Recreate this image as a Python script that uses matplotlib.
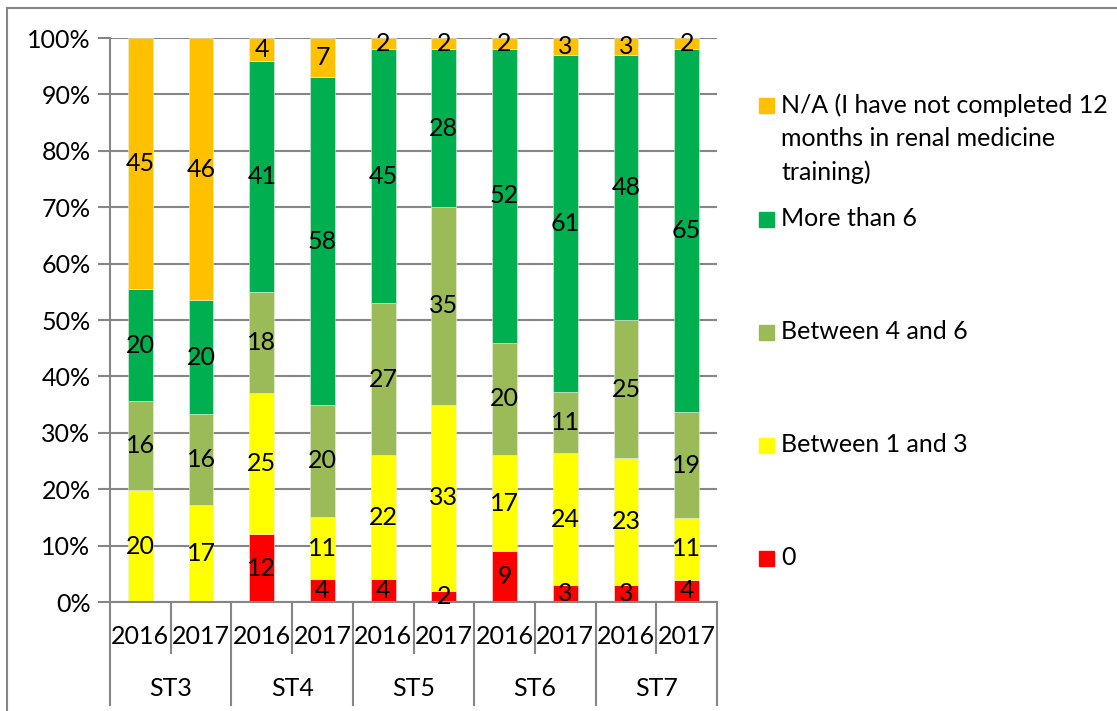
import matplotlib.pyplot as plt
import matplotlib.transforms as mtransforms
from matplotlib.lines import Line2D
from matplotlib.patches import Rectangle
import numpy as np

plt.rcParams['font.family'] = ['Lato', 'DejaVu Sans']

# data: counts per response, bottom to top
groups = ['ST3', 'ST4', 'ST5', 'ST6', 'ST7']
years = ['2016', '2017']
series = ['0', 'Between 1 and 3', 'Between 4 and 6', 'More than 6',
          'N/A (I have not completed 12\nmonths in renal medicine\ntraining)']
zero = [0, 0, 12, 4, 4, 2, 9, 3, 3, 4]
one_three = [20, 17, 25, 11, 22, 33, 17, 24, 23, 11]
four_six = [16, 16, 18, 20, 27, 35, 20, 11, 25, 19]
more_six = [20, 20, 41, 58, 45, 28, 52, 61, 48, 65]
na = [45, 46, 4, 7, 2, 2, 2, 3, 3, 2]
colors = ['#FF0000', '#FFFF00', '#9BBB59', '#00B050', '#FFC000']

counts = np.array([zero, one_three, four_six, more_six, na], dtype=float)
pct = counts / counts.sum(axis=0) * 100

fig = plt.figure(figsize=(11.17, 7.11), dpi=100)
ax = fig.add_axes([110/1117, 1-602/711, 607/1117, 564/711])

fs = 18
grid_c = '#868686'
x = np.arange(10)
bottom = np.zeros(10)
for k in range(len(series)):
    ax.bar(x, pct[k], 0.41, bottom=bottom, color=colors[k], zorder=2,
           edgecolor='#E6F0E0', linewidth=0.4)
    for i in range(10):
        if counts[k, i] > 0:
            ax.text(x[i], bottom[i] + pct[k, i]/2, '%d' % counts[k, i],
                    ha='center', va='center', fontsize=fs, color='black', zorder=3)
    bottom += pct[k]

ax.set_xlim(-0.5, 9.5)
ax.set_ylim(0, 100)
ax.set_yticks(np.arange(0, 101, 10))
ax.set_yticklabels(['%d%%' % v for v in range(0, 101, 10)], fontsize=fs)
ax.tick_params(axis='y', length=9, width=1.5, color=grid_c, pad=5)
ax.yaxis.grid(True, color=grid_c, linewidth=1.5, zorder=0)
ax.set_axisbelow(True)
for s in ['top', 'right']:
    ax.spines[s].set_visible(False)
ax.spines['left'].set_color(grid_c)
ax.spines['left'].set_linewidth(1.5)
ax.spines['bottom'].set_color(grid_c)
ax.spines['bottom'].set_linewidth(1.5)

# category axis: years and groups
ax.set_xticks([])
trans = mtransforms.blended_transform_factory(ax.transData, ax.transAxes)
for i in range(10):
    ax.text(x[i], -34/564, years[i % 2], ha='center', va='center',
            fontsize=fs, transform=trans)
for g, name in enumerate(groups):
    ax.text(2*g + 0.5, -86/564, name, ha='center', va='center',
            fontsize=fs, transform=trans)
for b in range(11):
    depth = -103/564 if b % 2 == 0 else -51/564
    ax.add_line(Line2D([b - 0.5, b - 0.5], [0, depth], transform=trans,
                       color=grid_c, linewidth=1.5, clip_on=False))

# legend, top to bottom
leg_top = [88, 202, 315, 428, 541]
for j, k in enumerate(range(len(series) - 1, -1, -1)):
    y0 = leg_top[j]
    fig.patches.append(Rectangle((759/1117, 1-(y0+25)/711), 15/1117, 15/711,
                                 transform=fig.transFigure, color=colors[k]))
    fig.text(781/1117, 1-(y0+5)/711, series[k], ha='left', va='top',
             fontsize=18, linespacing=1.55)

# outer border (top and left only visible)
fig.add_artist(Line2D([7/1117, 7/1117], [0, 1-8/711], transform=fig.transFigure,
                      color=grid_c, linewidth=1.5))
fig.add_artist(Line2D([7/1117, 1], [1-8/711, 1-8/711], transform=fig.transFigure,
                      color=grid_c, linewidth=1.5))

fig.savefig('out.png', dpi=100)
